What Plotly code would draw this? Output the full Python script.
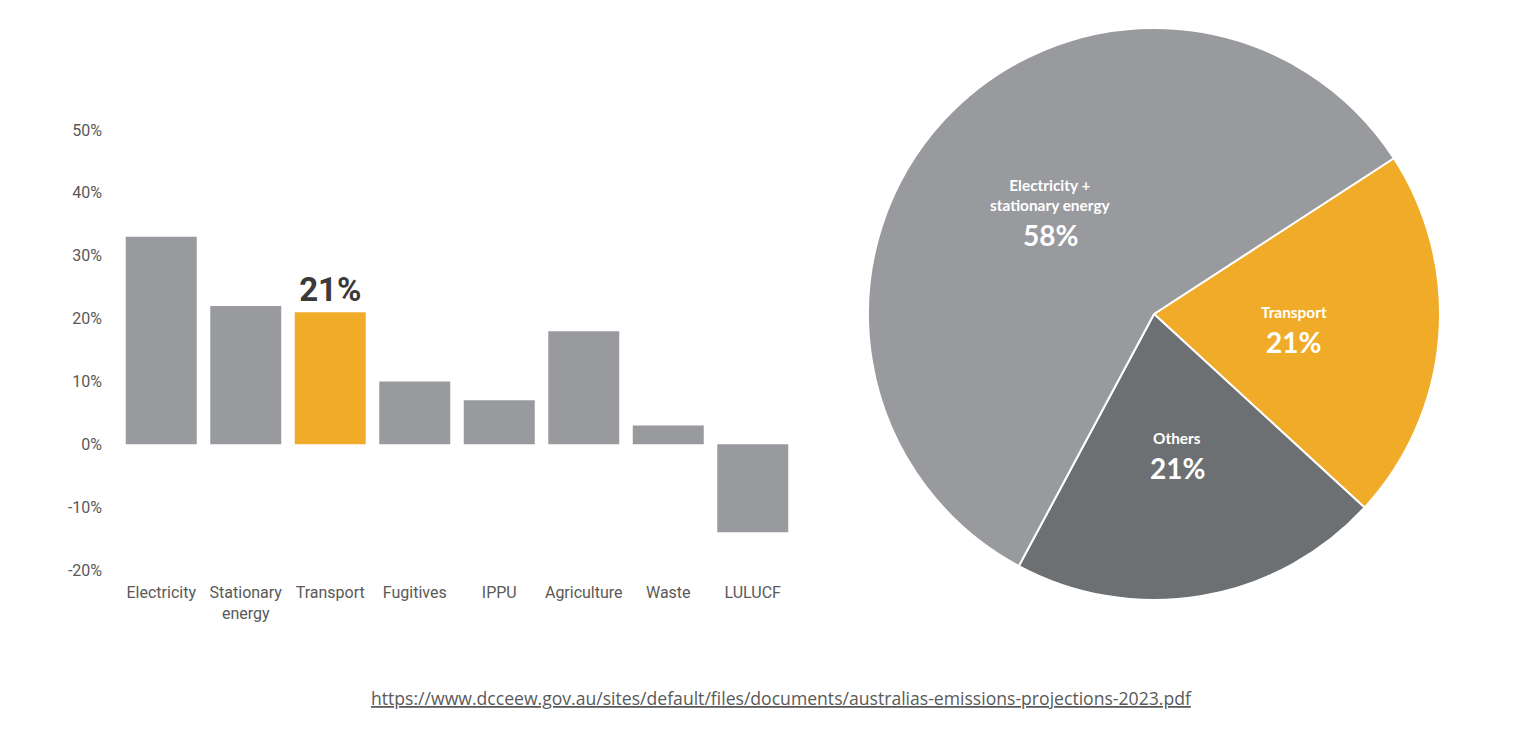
import math
import plotly.graph_objects as go

# sector share of change (bar chart)
sectors = ["Electricity", "Stationary<br>energy", "Transport", "Fugitives",
           "IPPU", "Agriculture", "Waste", "LULUCF"]
sector_values = [33, 22, 21, 10, 7, 18, 3, -14]
highlight = "Transport"
y_ticks = [-20, -10, 0, 10, 20, 30, 40, 50]

# share of emissions (pie)
pie_labels = ["Transport", "Others", "Electricity +<br>stationary energy"]
pie_values = [21, 21, 58]
pie_rotation = 57

source_url = "https://www.dcceew.gov.au/sites/default/files/documents/australias-emissions-projections-2023.pdf"

GREY = "#999a9e"
ORANGE = "#f0ac28"
DARK = "#6d7073"
TXT = "#595959"

W, H = 1514, 734
OFF = 8  # page body margin


def px(x):
    return (x - OFF) / W


def py(y):
    return 1 - (y - OFF) / H


bar_colors = [ORANGE if s == highlight else GREY for s in sectors]
bar_text = [f"{v}%" if s == highlight else "" for s, v in zip(sectors, sector_values)]

fig = go.Figure()

fig.add_trace(go.Bar(
    x=sectors, y=sector_values,
    marker=dict(color=bar_colors, line=dict(width=0)),
    text=bar_text, textposition="outside",
    textfont=dict(size=33, color="#3a3a3a", family="Roboto", weight="bold"),
    cliponaxis=False, constraintext="none",
    hovertemplate="%{x}: %{y}%<extra></extra>",
))

pie_dom = dict(x=[px(868), px(1440)], y=[py(600), py(28)])
fig.add_trace(go.Pie(
    labels=pie_labels, values=pie_values,
    sort=False, direction="clockwise", rotation=pie_rotation,
    marker=dict(colors=[ORANGE, DARK, GREY], line=dict(color="white", width=2)),
    textinfo="none",
    domain=pie_dom,
    showlegend=False,
    hovertemplate="%{label}: %{value}%<extra></extra>",
))

# slice labels placed about half way out along each slice's bisector
cx = sum(pie_dom["x"]) / 2
cy = sum(pie_dom["y"]) / 2
r_px = min((pie_dom["x"][1] - pie_dom["x"][0]) * W, (pie_dom["y"][1] - pie_dom["y"][0]) * H) / 2
total = sum(pie_values)
start = pie_rotation
for lab, val in zip(pie_labels, pie_values):
    span = 360 * val / total
    mid = math.radians(start + span / 2)
    start += span
    ax_ = cx + 0.49 * r_px * math.sin(mid) / W
    ay_ = cy + 0.49 * r_px * math.cos(mid) / H
    fig.add_annotation(
        text=lab, x=ax_, y=ay_, xref="paper", yref="paper", showarrow=False,
        xanchor="center", yanchor="bottom", yshift=3,
        font=dict(size=15.4, color="white", family="Lato", weight="bold"),
    )
    fig.add_annotation(
        text=f"{val}%", x=ax_, y=ay_, xref="paper", yref="paper", showarrow=False,
        xanchor="center", yanchor="top", yshift=3,
        font=dict(size=28, color="white", family="Lato", weight="bold"),
    )

fig.add_annotation(
    text=f"<u>{source_url}</u>", xref="paper", yref="paper",
    x=px(781), y=py(698), xanchor="center", yanchor="middle", showarrow=False,
    font=dict(size=17.6, color=TXT, family="Open Sans"),
)

fig.update_layout(
    width=W, height=H,
    margin=dict(l=0, r=0, t=0, b=0, autoexpand=False),
    paper_bgcolor="white", plot_bgcolor="white",
    showlegend=False, bargap=0.16,
    font=dict(family="Roboto", color=TXT, size=16),
    xaxis=dict(domain=[px(119), px(795)], showgrid=False, showline=False,
               zeroline=False, automargin=False, ticklabelstandoff=11,
               tickfont=dict(size=16, color=TXT)),
    yaxis=dict(domain=[py(570), py(130)], range=[-20, 50],
               tickvals=y_ticks, ticktext=[f"{v}%" for v in y_ticks],
               showgrid=False, showline=False, zeroline=False, automargin=False,
               ticklabelstandoff=16, tickfont=dict(size=16, color=TXT)),
)

fig.write_html("out.html")
